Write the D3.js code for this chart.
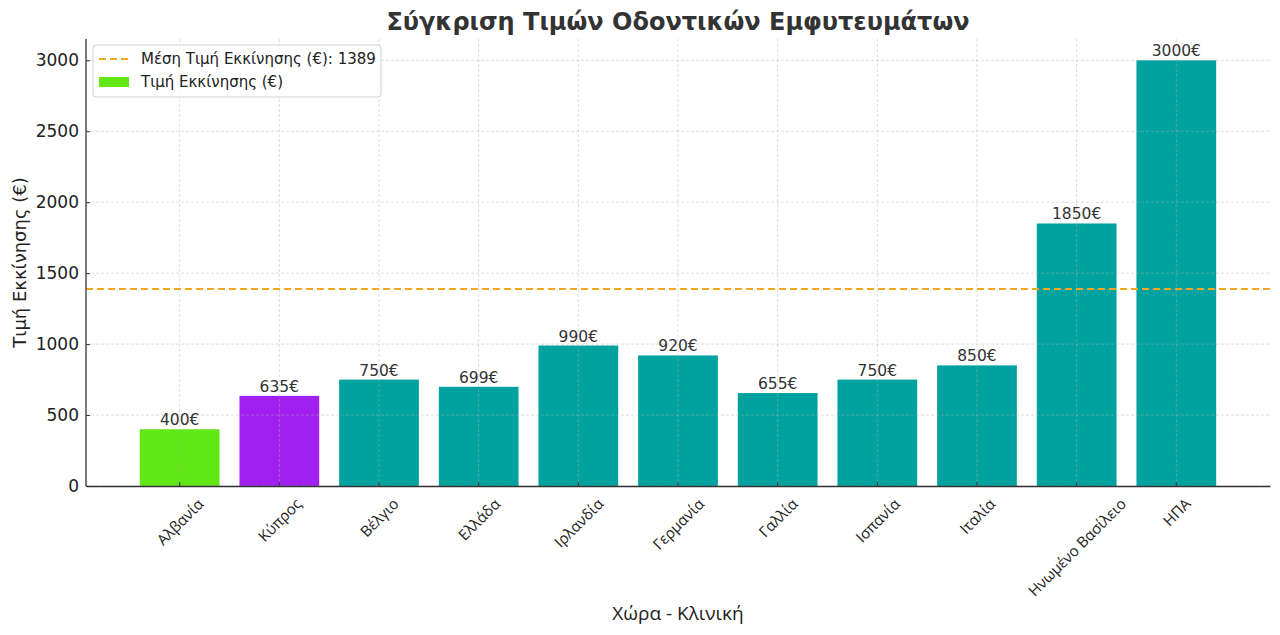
<!DOCTYPE html>
<html>
<head>
<meta charset="utf-8">
<script src="https://d3js.org/d3.v7.min.js"></script>
<style>
  body { margin: 0; background: #fff; }
  svg { display: block; }
</style>
</head>
<body>
<svg id="chart" width="1280" height="635"></svg>
<script>
// Data
const countries = ["Αλβανία", "Κύπρος", "Βέλγιο", "Ελλάδα", "Ιρλανδία", "Γερμανία", "Γαλλία", "Ισπανία", "Ιταλία", "Ηνωμένο Βασίλειο", "ΗΠΑ"];
const prices = [400, 635, 750, 699, 990, 920, 655, 750, 850, 1850, 3000];
const barColors = ["#62e716", "#a11ff0", "#00a29f", "#00a29f", "#00a29f", "#00a29f", "#00a29f", "#00a29f", "#00a29f", "#00a29f", "#00a29f"];
const meanPrice = 1389;
const yTicks = [0, 500, 1000, 1500, 2000, 2500, 3000];

const svg = d3.select("#chart");
const plotLeft = 86, plotRight = 1270, plotTop = 39, plotBottom = 486;
const font = "DejaVu Sans, sans-serif";

// Scales
const x = d3.scaleBand().domain(countries).range([plotLeft, plotRight]).paddingInner(0.2).paddingOuter(0.54);
const y = d3.scaleLinear().domain([0, 3150]).range([plotBottom, plotTop]);

// Bars
svg.append("g")
  .selectAll("rect")
  .data(countries)
  .join("rect")
  .attr("x", (d) => x(d))
  .attr("y", (d, i) => y(prices[i]))
  .attr("width", x.bandwidth())
  .attr("height", (d, i) => y(0) - y(prices[i]))
  .attr("fill", (d, i) => barColors[i]);

// Grid lines (drawn on top of the bars, like the original)
const grid = svg.append("g")
  .attr("stroke", "#b0b0b0")
  .attr("stroke-opacity", 0.55)
  .attr("stroke-width", 0.8)
  .attr("stroke-dasharray", "3,2");

grid.selectAll(".gy")
  .data(yTicks)
  .join("line")
  .attr("class", "gy")
  .attr("x1", plotLeft).attr("x2", plotRight)
  .attr("y1", (d) => y(d)).attr("y2", (d) => y(d));

grid.selectAll(".gx")
  .data(countries)
  .join("line")
  .attr("class", "gx")
  .attr("x1", (d) => x(d) + x.bandwidth() / 2)
  .attr("x2", (d) => x(d) + x.bandwidth() / 2)
  .attr("y1", plotTop).attr("y2", plotBottom);

// Mean line
svg.append("line")
  .attr("x1", plotLeft).attr("x2", plotRight)
  .attr("y1", y(meanPrice)).attr("y2", y(meanPrice))
  .attr("stroke", "#f5a623")
  .attr("stroke-width", 2)
  .attr("stroke-dasharray", "7,4");

// Value labels
svg.append("g")
  .selectAll("text")
  .data(countries)
  .join("text")
  .attr("x", (d) => x(d) + x.bandwidth() / 2)
  .attr("y", (d, i) => y(prices[i]) - 4)
  .attr("text-anchor", "middle")
  .attr("font-family", font)
  .attr("font-size", 15.5)
  .attr("fill", "#333")
  .text((d, i) => `${prices[i]}€`);

// Y axis
const yAxis = svg.append("g")
  .attr("transform", `translate(${plotLeft},0)`)
  .call(d3.axisLeft(y).tickValues(yTicks).tickFormat(d3.format("d")).tickSizeInner(-4).tickSizeOuter(0).tickPadding(7));
yAxis.select(".domain").attr("stroke", "#333").attr("stroke-width", 1.3)
  .attr("d", `M0,${plotTop}V${plotBottom}`);
yAxis.selectAll(".tick line").attr("stroke", "#333");
yAxis.selectAll(".tick text")
  .attr("font-family", font)
  .attr("font-size", 17)
  .attr("fill", "#222");

// X axis
const xAxis = svg.append("g")
  .attr("transform", `translate(0,${plotBottom})`)
  .call(d3.axisBottom(x).tickSizeInner(-4).tickSizeOuter(0).tickFormat(""));
xAxis.select(".domain").attr("stroke", "#333").attr("stroke-width", 1.3);
xAxis.selectAll(".tick line").attr("stroke", "#333");

// Rotated x tick labels, bbox centred on the tick
const xLabels = svg.append("g")
  .selectAll("text")
  .data(countries)
  .join("text")
  .attr("font-family", "Open Sans, sans-serif")
  .attr("font-size", 15)
  .attr("fill", "#222")
  .attr("text-anchor", "middle")
  .attr("dominant-baseline", "central")
  .text((d) => d);

xLabels.each(function (d) {
  const len = this.getComputedTextLength();
  const half = (len + 16) * Math.SQRT1_2 / 2;
  const cx = x(d) + x.bandwidth() / 2;
  const cy = plotBottom + 9 + half;
  d3.select(this).attr("transform", `translate(${cx},${cy}) rotate(-45)`);
});

// Axis titles
svg.append("text")
  .attr("x", (plotLeft + plotRight) / 2)
  .attr("y", 620)
  .attr("text-anchor", "middle")
  .attr("font-family", "Open Sans, sans-serif")
  .attr("font-size", 19)
  .attr("fill", "#222")
  .text("Χώρα - Κλινική");

svg.append("text")
  .attr("transform", `translate(26,${(plotTop + plotBottom) / 2}) rotate(-90)`)
  .attr("text-anchor", "middle")
  .attr("font-family", font)
  .attr("font-size", 18)
  .attr("fill", "#222")
  .text("Τιμή Εκκίνησης (€)");

// Title
svg.append("text")
  .attr("x", (plotLeft + plotRight) / 2)
  .attr("y", 30)
  .attr("text-anchor", "middle")
  .attr("font-family", font)
  .attr("font-weight", "bold")
  .attr("font-size", 24)
  .attr("fill", "#333")
  .text("Σύγκριση Τιμών Οδοντικών Εμφυτευμάτων");

// Legend
const legend = svg.append("g").attr("transform", "translate(93,45)");
legend.append("rect")
  .attr("width", 288).attr("height", 52)
  .attr("rx", 3)
  .attr("fill", "#fff").attr("fill-opacity", 0.85)
  .attr("stroke", "#d0d0d0");
legend.append("line")
  .attr("x1", 6).attr("x2", 38)
  .attr("y1", 14).attr("y2", 14)
  .attr("stroke", "#f5a623").attr("stroke-width", 2)
  .attr("stroke-dasharray", "7,4");
legend.append("rect")
  .attr("x", 6).attr("y", 32)
  .attr("width", 30).attr("height", 10)
  .attr("fill", barColors[0]);
legend.selectAll(".lt")
  .data([`Μέση Τιμή Εκκίνησης (€): ${meanPrice}`, "Τιμή Εκκίνησης (€)"])
  .join("text")
  .attr("class", "lt")
  .attr("x", 48)
  .attr("y", (d, i) => 19 + i * 23)
  .attr("font-family", font)
  .attr("font-size", 15)
  .attr("fill", "#222")
  .text((d) => d);
</script>
</body>
</html>
